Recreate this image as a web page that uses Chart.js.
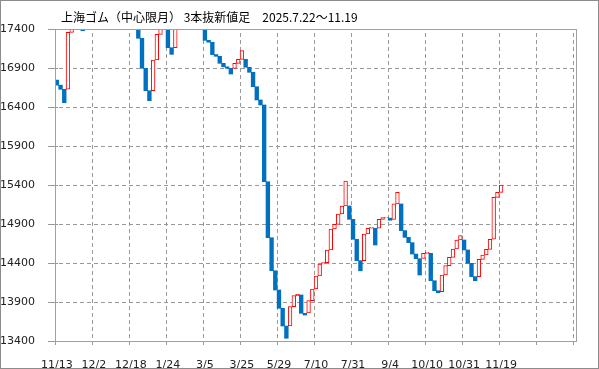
<!DOCTYPE html>
<html>
<head>
<meta charset="utf-8">
<script src="https://cdn.jsdelivr.net/npm/chart.js@4/dist/chart.umd.min.js"></script>
<style>
  html, body { margin: 0; padding: 0; background: #fff; }
</style>
</head>
<body>
<canvas id="chart" width="599" height="369"></canvas>
<script>
// 3本抜新値足: each bar runs from open to close
const dates = ['11/13', '12/2', '12/18', '1/24', '3/5', '3/25', '5/29', '7/10', '7/31', '9/4', '10/10', '10/31', '11/19'];
const opens = [
  16745, 16680, 16627, 16627, 17357, 17480, 17600, 17480, 17480, 17650,
  17800, 17950, 18100, 18300, 18150, 18000, 17850, 17700, 17550, 17750,
  17900, 17700, 17550, 17281, 16896, 16609, 16609, 17003, 17332, 17480,
  17480, 17160, 17160, 17520, 17680, 17850, 18000, 17800, 17650, 17800,
  17800, 17255, 17230, 17072, 17050, 16960, 16915, 16896, 16896, 16960,
  17011, 17011, 16909, 16845, 16660, 16490, 16426, 15442, 14724, 14301,
  14054, 13819, 13592, 13592, 13840, 13981, 13990, 13755, 13760, 13917,
  14067, 14233, 14387, 14404, 14567, 14836, 14896, 15028, 15131, 15131,
  14960, 14704, 14430, 14430, 14772, 14845, 14845, 14845, 14960, 14981,
  14975, 14960, 15157, 15157, 14815, 14729, 14661, 14515, 14455, 14460,
  14524, 14524, 14173, 14045, 14032, 14246, 14366, 14473, 14580, 14695,
  14695, 14567, 14396, 14225, 14225, 14447, 14503, 14575, 14704, 15242,
  15306
];
const closes = [
  16680, 16627, 16455, 17357, 17480, 17600, 17720, 17378, 17650, 17800,
  17950, 18100, 18300, 18150, 18000, 17850, 17700, 17550, 17750, 17900,
  17700, 17550, 17281, 16896, 16609, 16481, 17003, 17332, 17480, 17620,
  17160, 17075, 17520, 17680, 17850, 18000, 17800, 17650, 17800, 17950,
  17255, 17230, 17072, 17050, 16960, 16915, 16896, 16823, 16960, 17011,
  17122, 16909, 16845, 16660, 16490, 16426, 15442, 14724, 14301, 14054,
  13819, 13592, 13435, 13840, 13981, 13998, 13755, 13733, 13917, 14067,
  14233, 14387, 14404, 14567, 14836, 14896, 15028, 15131, 15451, 14960,
  14704, 14430, 14300, 14772, 14845, 14858, 14631, 14960, 14981, 14990,
  14948, 15157, 15306, 14815, 14729, 14661, 14515, 14455, 14246, 14524,
  14537, 14173, 14045, 14019, 14246, 14366, 14473, 14580, 14695, 14751,
  14567, 14396, 14225, 14173, 14447, 14503, 14575, 14704, 15242, 15306,
  15400
];
const yMin = 13400, yMax = 17400, yStep = 500;
const slotCount = 141;   // bar slots on the x axis
const labelEvery = 10;   // one date label every 10 bars

const BLUE = '#0070C0';
const RED = '#FF0000';
const GRID = '#999999';

const labels = [];
for (let i = 0; i < slotCount; i++) labels.push(i);
const bars = opens.map((o, i) => [o, closes[i]]);
const isUp = i => closes[i] > opens[i];

// dashed grid (4 on / 3 off) and tick marks, under the bars
function drawGrid(chart) {
  const { ctx, chartArea: a } = chart;
  const x = chart.scales.x, y = chart.scales.y;
  ctx.save();
  ctx.fillStyle = GRID;
  y.ticks.forEach(t => {
    const py = Math.round(y.getPixelForValue(t.value));
    ctx.fillRect(Math.round(a.left) - 7, py, 10, 1);
    if (t.value > yMin && t.value < yMax) {
      for (let s = Math.round(a.left) + 4; s < a.right - 1; s += 7) {
        ctx.fillRect(s, py, Math.min(4, a.right - 1 - s), 1);
      }
    }
  });
  const half = (x.getPixelForValue(1) - x.getPixelForValue(0)) / 2;
  for (let i = 0; i < slotCount; i += labelEvery) {
    const px = Math.round(x.getPixelForValue(i) - half);
    ctx.fillRect(px, Math.round(a.bottom), 1, 4);
    if (i > 0) {
      for (let s = Math.round(a.top) + 4; s < a.bottom; s += 7) {
        ctx.fillRect(px, s, 1, Math.min(4, a.bottom - s));
      }
    }
  }
  ctx.restore();
}

const gridPlugin = {
  id: 'dashGrid',
  beforeDatasetsDraw(chart) {
    drawGrid(chart);
  },
  afterDraw(chart) {
    const { ctx, chartArea: a } = chart;
    ctx.save();
    ctx.strokeStyle = '#a0a0a0';
    ctx.lineWidth = 1;
    ctx.strokeRect(Math.round(a.left) + 0.5, Math.round(a.top) + 0.5,
      Math.round(a.right - a.left) - 1, Math.round(a.bottom - a.top));
    ctx.fillStyle = '#000';
    ctx.font = '12px "Noto Sans CJK JP"';
    ctx.textBaseline = 'middle';
    ctx.fillText('上海ゴム（中心限月） 3本抜新値足　2025.7.22～11.19', 61, 17);
    ctx.strokeStyle = '#8c8c8c';
    ctx.strokeRect(0.5, 0.5, chart.width - 1, chart.height - 1);
    ctx.restore();
  }
};

new Chart(document.getElementById('chart'), {
  type: 'bar',
  data: {
    labels: labels,
    datasets: [{
      data: bars,
      clip: 0,
      backgroundColor: ctx => isUp(ctx.dataIndex) ? '#ffffff' : BLUE,
      borderColor: ctx => isUp(ctx.dataIndex) ? RED : BLUE,
      borderWidth: ctx => isUp(ctx.dataIndex) ? 1 : 0,
      borderSkipped: false,
      barPercentage: 1,
      categoryPercentage: 1
    }]
  },
  options: {
    responsive: false,
    animation: false,
    devicePixelRatio: 1,
    layout: { padding: { left: 0, right: 22, top: 29, bottom: 0 } },
    plugins: {
      legend: { display: false },
      tooltip: { enabled: false }
    },
    scales: {
      x: {
        type: 'category',
        offset: true,
        afterFit: s => { s.height = 28; },
        border: { display: false },
        grid: { display: false },
        ticks: {
          autoSkip: false,
          maxRotation: 0,
          padding: 10,
          color: '#222',
          font: { family: 'DejaVu Sans', size: 11 },
          callback: (v, i) => (i % labelEvery === 0 && dates[i / labelEvery]) ? dates[i / labelEvery] : ''
        }
      },
      y: {
        min: yMin,
        max: yMax,
        afterFit: s => { s.width = 55; },
        border: { display: false },
        grid: { display: false },
        ticks: {
          stepSize: yStep,
          padding: 12,
          color: '#222',
          font: { family: 'DejaVu Sans', size: 11 },
          callback: v => String(v)
        }
      }
    }
  },
  plugins: [gridPlugin]
});
</script>
</body>
</html>
